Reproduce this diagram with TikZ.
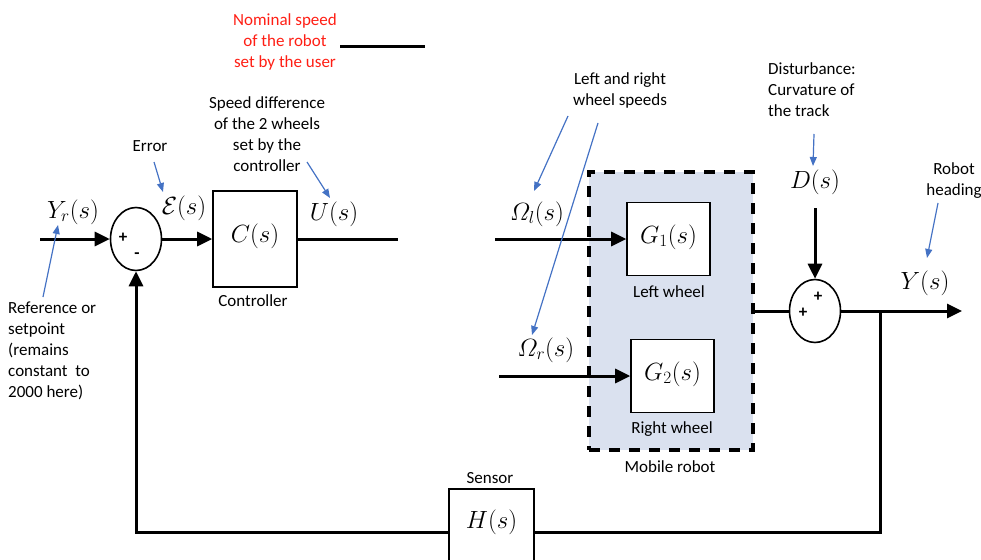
\documentclass[tikz,border=0pt]{standalone}
\usepackage{amsmath}
\usepackage[no-math]{fontspec}
\newfontfamily\lbl{Carlito}
\usetikzlibrary{arrows.meta,shapes.geometric}
\definecolor{annblue}{RGB}{68,114,196}
\definecolor{annred}{RGB}{255,30,20}
\definecolor{robotfill}{RGB}{218,225,239}
\begin{document}
\begin{tikzpicture}[x=1pt,y=-1pt,
  lab/.style={font=\lbl\fontsize{17}{21}\selectfont, inner sep=0, align=center},
  mth/.style={font=\fontsize{24}{28}\selectfont, inner sep=0},
  blk/.style={draw, line width=1.6pt, fill=white, inner sep=0},
  sumj/.style={draw, ellipse, line width=1.6pt, fill=white, minimum width=51pt, minimum height=63pt, inner sep=0},
  sig/.style={line width=3pt},
  sigarr/.style={line width=3pt, -{Triangle[length=15pt,width=14pt]}},
  ann/.style={annblue, line width=1.2pt, -{Triangle[length=9pt,width=7pt]}},
  sgn/.style={font=\lbl\bfseries\fontsize{17}{18}\selectfont, inner sep=0}
]
\useasboundingbox (0,0) rectangle (981,559);
\clip (0,0) rectangle (981,559);

% mobile robot dashed box
\node[fill=robotfill, draw, line width=3.5pt, dash pattern=on 11pt off 9pt, minimum width=164pt, minimum height=278pt, inner sep=0] (robot) at (671,311) {};

% blocks
\node[blk, minimum width=84pt, minimum height=96pt] (C) at (255,239) {};
\node[mth] (Ctxt) at (255,236) {$C(s)$};
\node[blk, minimum width=83pt, minimum height=73pt] (G1) at (668.5,239) {};
\node[mth] (G1txt) at (668.5,237) {$G_1(s)$};
\node[blk, minimum width=83pt, minimum height=73pt] (G2) at (672.5,376) {};
\node[mth] (G2txt) at (672.5,374) {$G_2(s)$};
\node[blk, minimum width=85pt, minimum height=86pt] (H) at (491.5,532) {};
\node[mth] (Htxt) at (491.5,522) {$H(s)$};

% summing junctions
\node[sumj] (s1) at (136,239) {};
\node[sgn] (s1p) at (123,238) {+};
\node[sgn] (s1m) at (137,256) {-};
\node[sumj] (s2) at (815,311) {};
\node[sgn] (s2p1) at (818,297) {+};
\node[sgn] (s2p2) at (803,313) {+};

% math labels
\node[mth] (Yr) at (73,212) {$Y_r(s)$};
\node[mth] (E) at (184,208) {$\mathcal{E}(s)$};
\node[mth] (U) at (334,214) {$U(s)$};
\node[mth] (Ol) at (537,214) {$\varOmega_l(s)$};
\node[mth] (Or) at (546,350) {$\varOmega_r(s)$};
\node[mth] (D) at (815,182) {$D(s)$};
\node[mth] (Y) at (925,283) {$Y(s)$};

% text labels
\node[lab] (errl) at (150,146) {Error};
\node[lab] (ctrll) at (253,301) {Controller};
\node[lab] (lwl) at (669,292) {Left wheel};
\node[lab] (rwl) at (672,429) {Right wheel};
\node[lab] (mrl) at (670,467) {Mobile robot};
\node[lab] (senl) at (490,478) {Sensor};
\node[lab, text=annred] (noml) at (285,42) {Nominal speed\\of the robot\\set by the user};
\node[lab] (sdl) at (267,134) {Speed difference\\of the 2 wheels\\set by the\\controller};
\node[lab] (lrl) at (620,90) {Left and right\\wheel speeds};
\node[lab, align=left, anchor=west] (disl) at (768,90) {Disturbance:\\Curvature of\\the track};
\node[lab] (rhl) at (954,181) {Robot\\heading};
\node[lab, align=left, anchor=west] (refl) at (8,351) {Reference or\\setpoint\\(remains\\constant\ \ to\\2000 here)};

% signal connectors
\coordinate (yin) at (40,239);
\draw[sigarr] (yin) -- (s1.west);
\draw[sigarr] (s1.east) -- (C.west);
\coordinate (uend) at (398,239);
\draw[sig] (C.east) -- (uend);
\coordinate (nomA) at (340,47);
\coordinate (nomB) at (425,47);
\draw[sig] (nomA) -- (nomB);
\coordinate (olin) at (495,239);
\draw[sigarr] (olin) -- (G1.west);
\coordinate (orin) at (499,376);
\draw[sigarr] (orin) -- (G2.west);
\draw[sig] (robot.east) -- (s2.west);
\coordinate (dtop) at (815,208);
\draw[sigarr] (dtop) -- (s2.north);
\coordinate (yout) at (962,311);
\draw[sigarr] (s2.east) -- (yout);
\coordinate (br) at (880,311);
\draw[sig] (br) |- (H.east);
\draw[sigarr] (H.west) -| (s1.south);

% annotation arrows
\coordinate (a1s) at (154,162); \coordinate (a1e) at (163,192);
\draw[ann] (a1s) -- (a1e);
\coordinate (a2s) at (307,162); \coordinate (a2e) at (330,198);
\draw[ann] (a2s) -- (a2e);
\coordinate (a3s) at (43,297); \coordinate (a3e) at (58,225);
\draw[ann] (a3s) -- (a3e);
\coordinate (a4s) at (568,116); \coordinate (a4e) at (534,191);
\draw[ann] (a4s) -- (a4e);
\coordinate (a5s) at (598,123); \coordinate (a5e) at (532,335);
\draw[ann] (a5s) -- (a5e);
\coordinate (a6s) at (814,134); \coordinate (a6e) at (813,166);
\draw[ann] (a6s) -- (a6e);
\coordinate (a7s) at (938,203); \coordinate (a7e) at (927,258);
\draw[ann] (a7s) -- (a7e);
\end{tikzpicture}
\end{document}
